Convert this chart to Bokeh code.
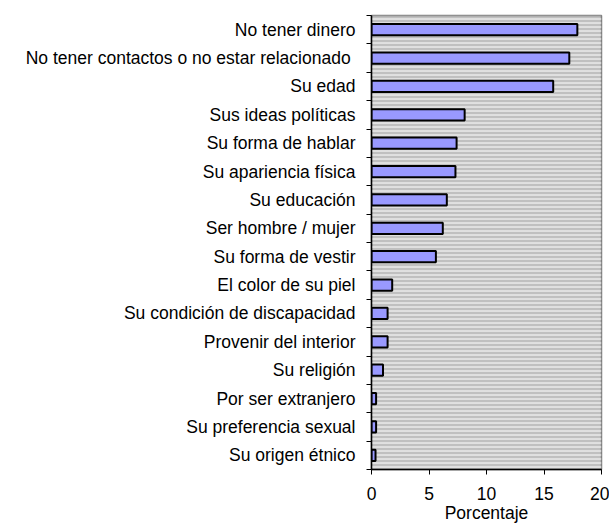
from bokeh.plotting import figure
from bokeh.models import Range1d, FixedTicker
from bokeh.embed import file_html
from bokeh.resources import INLINE

categories = [
    "No tener dinero",
    "No tener contactos o no estar  relacionado",
    "Su edad",
    "Sus ideas políticas",
    "Su forma de hablar",
    "Su apariencia física",
    "Su educación",
    "Ser hombre / mujer",
    "Su forma de vestir",
    "El color de su piel",
    "Su condición de discapacidad",
    "Provenir del interior",
    "Su religión",
    "Por ser extranjero",
    "Su preferencia sexual",
    "Su origen étnico",
]
values = [17.9, 17.2, 15.8, 8.1, 7.4, 7.3, 6.55, 6.2, 5.6, 1.8, 1.4, 1.4, 1.0, 0.4, 0.4, 0.35]
x_ticks = [0, 5, 10, 15, 20]
x_max = 20
x_title = "Porcentaje"

n = len(categories)
pos = list(range(n))

FONT = "Liberation Sans"
FS = "17.5px"

p = figure(frame_width=230, frame_height=454, output_backend="svg", toolbar_location=None,
           x_range=Range1d(0, x_max), y_range=Range1d(n - 0.5, -0.5),
           min_border_left=371, min_border_right=8, min_border_top=15, min_border_bottom=0)
p.background_fill_color = "#C0C0C0"
p.border_fill_color = "white"
p.outline_line_color = "#808080"
p.outline_line_width = 1.5
p.xgrid.visible = False
p.ygrid.visible = False

# striped plot background
p.quad(left=0, right=x_max, bottom=n - 0.5, top=-0.5, fill_color=None, line_color=None,
       hatch_pattern="horizontal_line", hatch_color="white", hatch_scale=4, hatch_weight=1)

p.hbar(y=pos, right=values, left=0, height=0.4, fill_color="#9999FF",
       line_color="black", line_width=2)

# y axis
yax = p.yaxis[0]
yax.ticker = FixedTicker(ticks=pos, minor_ticks=[i - 0.5 for i in range(n + 1)])
yax.major_label_overrides = {i: c for i, c in enumerate(categories)}
yax.major_tick_out = 0
yax.major_tick_in = 0
yax.minor_tick_out = 5
yax.minor_tick_in = 0
yax.minor_tick_line_color = "black"
yax.axis_line_color = "black"
yax.axis_line_width = 1.5
yax.major_label_standoff = 11
yax.major_label_text_font = FONT
yax.major_label_text_font_size = FS
yax.major_label_text_color = "black"

# x axis
xax = p.xaxis[0]
xax.ticker = FixedTicker(ticks=x_ticks, minor_ticks=[])
xax.major_tick_out = 5
xax.major_tick_in = 0
xax.major_tick_line_color = "black"
xax.axis_line_color = "black"
xax.axis_line_width = 1.5
xax.major_label_standoff = 12
xax.major_label_text_font = FONT
xax.major_label_text_font_size = FS
xax.major_label_text_color = "black"
xax.axis_label = x_title
xax.axis_label_text_font = FONT
xax.axis_label_text_font_size = FS
xax.axis_label_text_font_style = "normal"
xax.axis_label_text_color = "black"
xax.axis_label_standoff = 0

open("out.html", "w").write(file_html(p, INLINE))
